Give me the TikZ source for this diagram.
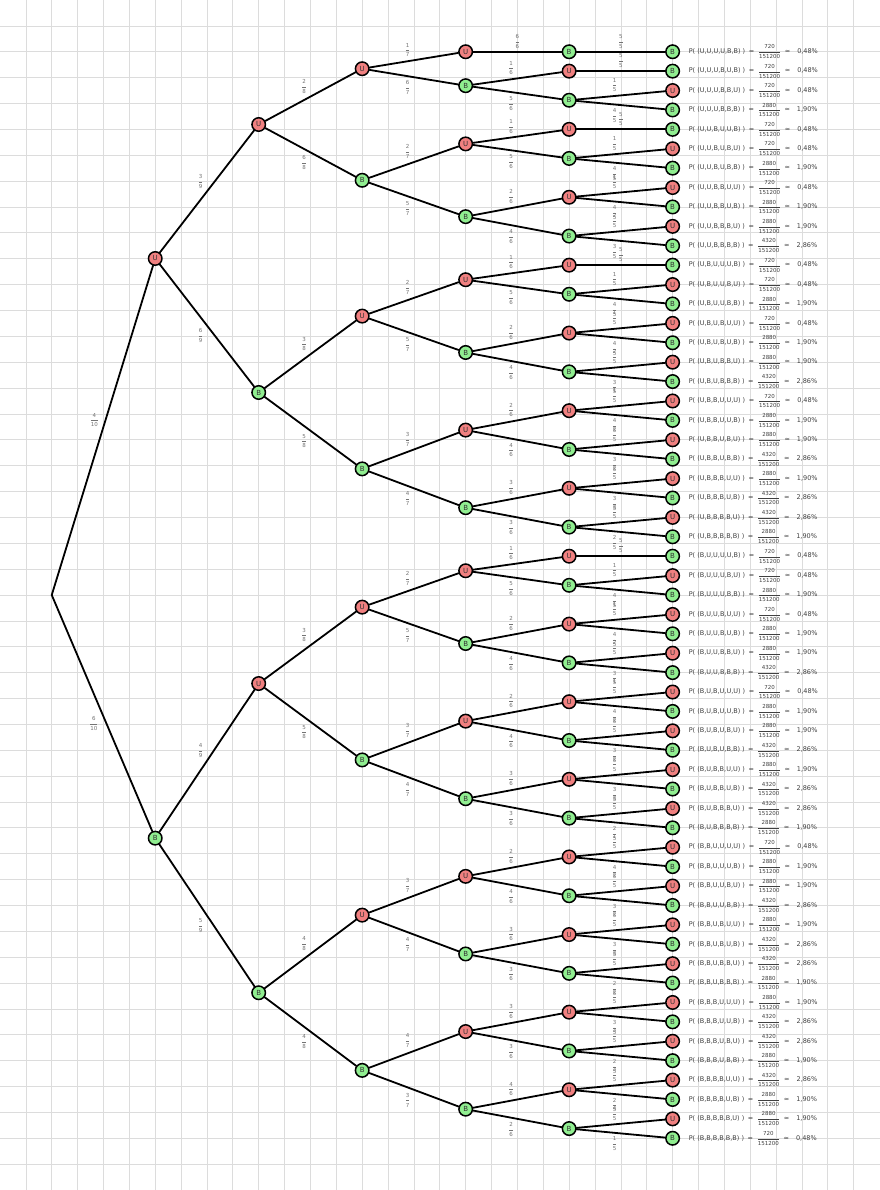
\documentclass[tikz,border=0pt]{standalone}
\usepackage{amsmath}
\usepackage{fontspec}
\setmainfont{DejaVu Sans}
\usepackage{xcolor}
\usepackage{tikz}
\usetikzlibrary{positioning}

\definecolor{rojo}{HTML}{F08080}
\definecolor{verde}{HTML}{90EE90}
\definecolor{rejilla}{HTML}{DCDCDC}

\newcommand\fr[2]{{\fontsize{5.5}{6}\selectfont$\dfrac{\mbox{#1}}{\mbox{#2}}$}}
\newcommand\spell[6]{#1,#2,#3,#4,#5,#6}
\newcommand\pct[1]{\ifnum#1=720 0,48\else\ifnum#1=2880 1,90\else 2,86\fi\fi\%}

\begin{document}
\begin{tikzpicture}[x=25.875pt, y=-25.875pt,
  kU/.style={circle, draw=black, line width=1.5pt, fill=rojo, minimum size=13.5pt,
             inner sep=0pt, font=\fontsize{7}{8}\selectfont, text=black!80},
  kB/.style={kU, fill=verde},
  ast/.style={line width=1.8pt, black, line cap=round},
  et/.style={text=black!55, inner sep=2.5pt},
  hi/.style={auto=left},
  lo/.style={auto=right},
  pr/.style={font=\fontsize{6.5}{7}\selectfont, text=black!75, inner sep=1.5pt},
  gr/.style={rejilla, line width=0.7pt}]
\useasboundingbox (0,0) rectangle (34,46);
\foreach \k in {1,...,33} \draw[gr] (\k,0) -- (\k,46);
\foreach \k in {1,...,45} \draw[gr] (0,\k) -- (34,\k);
\coordinate (r) at (2,23);
\foreach \n/\p/\c/\s/\i/\a/\b in {U/r/U/hi/10.65625/4/10, B/r/B/lo/40.53125/6/10}{
  \node[k\c] (\n) at (6,{2+0.75*\i}) {\c};
  \draw[ast] (\p) -- node[et, \s] {\fr\a\b} (\n);
}
\foreach \n/\p/\c/\s/\i/\a/\b in {UU/U/U/hi/3.75/3/9, UB/U/B/lo/17.5625/6/9,
    BU/B/U/hi/32.5625/4/9, BB/B/B/lo/48.5/5/9}{
  \node[k\c] (\n) at (10,{2+0.75*\i}) {\c};
  \draw[ast] (\p) -- node[et, \s] {\fr\a\b} (\n);
}
\foreach \n/\p/\c/\s/\i/\a/\b in {UUU/UU/U/hi/0.875/2/8, UUB/UU/B/lo/6.625/6/8,
    UBU/UB/U/hi/13.625/3/8, UBB/UB/B/lo/21.5/5/8,
    BUU/BU/U/hi/28.625/3/8, BUB/BU/B/lo/36.5/5/8,
    BBU/BB/U/hi/44.5/4/8, BBB/BB/B/lo/52.5/4/8}{
  \node[k\c] (\n) at (14,{2+0.75*\i}) {\c};
  \draw[ast] (\p) -- node[et, \s] {\fr\a\b} (\n);
}
\foreach \n/\p/\c/\s/\i/\a/\b in {UUUU/UUU/U/hi/0/1/7, UUUB/UUU/B/lo/1.75/6/7,
    UUBU/UUB/U/hi/4.75/2/7, UUBB/UUB/B/lo/8.5/5/7,
    UBUU/UBU/U/hi/11.75/2/7, UBUB/UBU/B/lo/15.5/5/7,
    UBBU/UBB/U/hi/19.5/3/7, UBBB/UBB/B/lo/23.5/4/7,
    BUUU/BUU/U/hi/26.75/2/7, BUUB/BUU/B/lo/30.5/5/7,
    BUBU/BUB/U/hi/34.5/3/7, BUBB/BUB/B/lo/38.5/4/7,
    BBUU/BBU/U/hi/42.5/3/7, BBUB/BBU/B/lo/46.5/4/7,
    BBBU/BBB/U/hi/50.5/4/7, BBBB/BBB/B/lo/54.5/3/7}{
  \node[k\c] (\n) at (18,{2+0.75*\i}) {\c};
  \draw[ast] (\p) -- node[et, \s] {\fr\a\b} (\n);
}
\foreach \n/\p/\c/\s/\i/\a/\b in {UUUUB/UUUU/B/hi/0/6/6,
    UUUBU/UUUB/U/hi/1/1/6, UUUBB/UUUB/B/lo/2.5/5/6,
    UUBUU/UUBU/U/hi/4/1/6, UUBUB/UUBU/B/lo/5.5/5/6,
    UUBBU/UUBB/U/hi/7.5/2/6, UUBBB/UUBB/B/lo/9.5/4/6,
    UBUUU/UBUU/U/hi/11/1/6, UBUUB/UBUU/B/lo/12.5/5/6,
    UBUBU/UBUB/U/hi/14.5/2/6, UBUBB/UBUB/B/lo/16.5/4/6,
    UBBUU/UBBU/U/hi/18.5/2/6, UBBUB/UBBU/B/lo/20.5/4/6,
    UBBBU/UBBB/U/hi/22.5/3/6, UBBBB/UBBB/B/lo/24.5/3/6,
    BUUUU/BUUU/U/hi/26/1/6, BUUUB/BUUU/B/lo/27.5/5/6,
    BUUBU/BUUB/U/hi/29.5/2/6, BUUBB/BUUB/B/lo/31.5/4/6,
    BUBUU/BUBU/U/hi/33.5/2/6, BUBUB/BUBU/B/lo/35.5/4/6,
    BUBBU/BUBB/U/hi/37.5/3/6, BUBBB/BUBB/B/lo/39.5/3/6,
    BBUUU/BBUU/U/hi/41.5/2/6, BBUUB/BBUU/B/lo/43.5/4/6,
    BBUBU/BBUB/U/hi/45.5/3/6, BBUBB/BBUB/B/lo/47.5/3/6,
    BBBUU/BBBU/U/hi/49.5/3/6, BBBUB/BBBU/B/lo/51.5/3/6,
    BBBBU/BBBB/U/hi/53.5/4/6, BBBBB/BBBB/B/lo/55.5/2/6}{
  \node[k\c] (\n) at (22,{2+0.75*\i}) {\c};
  \draw[ast] (\p) -- node[et, \s] {\fr\a\b} (\n);
}
\foreach \n/\p/\c/\s/\a/\b/\q [count=\k from 0] in {
    UUUUBB/UUUUB/B/hi/5/5/720,
    UUUBUB/UUUBU/B/hi/5/5/720,
    UUUBBU/UUUBB/U/hi/1/5/720, UUUBBB/UUUBB/B/lo/4/5/2880,
    UUBUUB/UUBUU/B/hi/5/5/720,
    UUBUBU/UUBUB/U/hi/1/5/720, UUBUBB/UUBUB/B/lo/4/5/2880,
    UUBBUU/UUBBU/U/hi/1/5/720, UUBBUB/UUBBU/B/lo/4/5/2880,
    UUBBBU/UUBBB/U/hi/2/5/2880, UUBBBB/UUBBB/B/lo/3/5/4320,
    UBUUUB/UBUUU/B/hi/5/5/720,
    UBUUBU/UBUUB/U/hi/1/5/720, UBUUBB/UBUUB/B/lo/4/5/2880,
    UBUBUU/UBUBU/U/hi/1/5/720, UBUBUB/UBUBU/B/lo/4/5/2880,
    UBUBBU/UBUBB/U/hi/2/5/2880, UBUBBB/UBUBB/B/lo/3/5/4320,
    UBBUUU/UBBUU/U/hi/1/5/720, UBBUUB/UBBUU/B/lo/4/5/2880,
    UBBUBU/UBBUB/U/hi/2/5/2880, UBBUBB/UBBUB/B/lo/3/5/4320,
    UBBBUU/UBBBU/U/hi/2/5/2880, UBBBUB/UBBBU/B/lo/3/5/4320,
    UBBBBU/UBBBB/U/hi/3/5/4320, UBBBBB/UBBBB/B/lo/2/5/2880,
    BUUUUB/BUUUU/B/hi/5/5/720,
    BUUUBU/BUUUB/U/hi/1/5/720, BUUUBB/BUUUB/B/lo/4/5/2880,
    BUUBUU/BUUBU/U/hi/1/5/720, BUUBUB/BUUBU/B/lo/4/5/2880,
    BUUBBU/BUUBB/U/hi/2/5/2880, BUUBBB/BUUBB/B/lo/3/5/4320,
    BUBUUU/BUBUU/U/hi/1/5/720, BUBUUB/BUBUU/B/lo/4/5/2880,
    BUBUBU/BUBUB/U/hi/2/5/2880, BUBUBB/BUBUB/B/lo/3/5/4320,
    BUBBUU/BUBBU/U/hi/2/5/2880, BUBBUB/BUBBU/B/lo/3/5/4320,
    BUBBBU/BUBBB/U/hi/3/5/4320, BUBBBB/BUBBB/B/lo/2/5/2880,
    BBUUUU/BBUUU/U/hi/1/5/720, BBUUUB/BBUUU/B/lo/4/5/2880,
    BBUUBU/BBUUB/U/hi/2/5/2880, BBUUBB/BBUUB/B/lo/3/5/4320,
    BBUBUU/BBUBU/U/hi/2/5/2880, BBUBUB/BBUBU/B/lo/3/5/4320,
    BBUBBU/BBUBB/U/hi/3/5/4320, BBUBBB/BBUBB/B/lo/2/5/2880,
    BBBUUU/BBBUU/U/hi/2/5/2880, BBBUUB/BBBUU/B/lo/3/5/4320,
    BBBUBU/BBBUB/U/hi/3/5/4320, BBBUBB/BBBUB/B/lo/2/5/2880,
    BBBBUU/BBBBU/U/hi/3/5/4320, BBBBUB/BBBBU/B/lo/2/5/2880,
    BBBBBU/BBBBB/U/hi/4/5/2880, BBBBBB/BBBBB/B/lo/1/5/720}{
  \node[k\c] (\n) at (26,{2+0.75*\k}) {\c};
  \draw[ast] (\p) -- node[et, \s] {\fr\a\b} (\n);
  \node[pr, right=7pt of \n] (p\n)
    {P( (\expandafter\spell\n) )\hspace{1.5pt} = \hspace{1.5pt}\fr{\q}{151200}\hspace{1.5pt} ≈\hspace{7pt}\pct\q};
}
\end{tikzpicture}
\end{document}
